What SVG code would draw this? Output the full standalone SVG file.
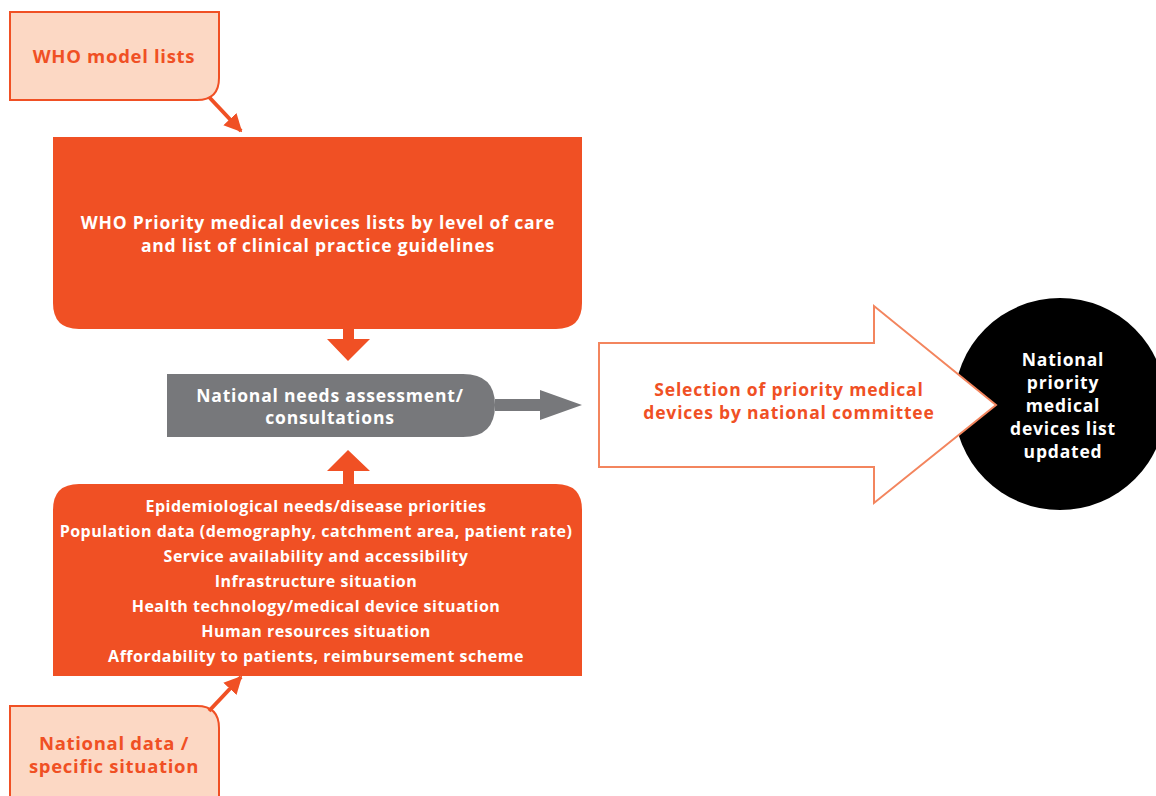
<svg xmlns="http://www.w3.org/2000/svg" width="1156" height="796" viewBox="0 0 1156 796">
<style>
.t{font-family:"Open Sans","Liberation Sans",sans-serif;font-weight:700;text-anchor:middle}
.w{fill:#ffffff}
.o{fill:#F05024}
.l{font-size:17.5px;letter-spacing:0.8px}
.s{font-size:16px;letter-spacing:0.5px}
.peach{fill:#FCD8C4;stroke:#F05024;stroke-width:2}
.org{fill:#F05024}
</style>
<defs>
<marker id="ah" viewBox="0 0 10 10" refX="9" refY="5" markerWidth="4.5" markerHeight="4.5" orient="auto" markerUnits="strokeWidth">
<path d="M0,0 L10,5 L0,10 Z" fill="#F05024"/>
</marker>
</defs>
<g id="who-model-lists">
<path class="peach" d="M10,12 H219 V78 Q219,100 197,100 H10 Z"/>
<text class="t o" x="114" y="63" font-size="18.5" letter-spacing="0.7">WHO model lists</text>
</g>
<g id="who-priority">
<path class="org" d="M53,137 H582 V303 Q582,329 556,329 H79 Q53,329 53,303 Z"/>
<text class="t w l" x="318" y="229">WHO Priority medical devices lists by level of care</text>
<text class="t w l" x="318" y="252">and list of clinical practice guidelines</text>
</g>
<g id="needs-assessment">
<path fill="#77787B" d="M167,374 H463 Q495,374 495,405 Q495,437 463,437 H167 Z"/>
<text class="t w l" x="330" y="402">National needs assessment/</text>
<text class="t w l" x="330" y="424">consultations</text>
</g>
<g id="updated-list">
<circle cx="1060" cy="404" r="106" fill="#000000"/>
<text class="t w l" x="1063" y="366">National</text>
<text class="t w l" x="1063" y="389">priority</text>
<text class="t w l" x="1063" y="412">medical</text>
<text class="t w l" x="1063" y="435">devices list</text>
<text class="t w l" x="1063" y="458">updated</text>
</g>
<g id="selection">
<path fill="#ffffff" stroke="#F3855E" stroke-width="2" d="M599,343 H874 V306 L996,405 L874,503 V467 H599 Z"/>
<text class="t o l" x="789" y="396">Selection of priority medical</text>
<text class="t o l" x="789" y="419">devices by national committee</text>
</g>
<g id="national-factors">
<path class="org" d="M53,676 V510 Q53,484 79,484 H556 Q582,484 582,510 V676 Z"/>
<text class="t w s" x="316" y="512">Epidemiological needs/disease priorities</text>
<text class="t w s" x="316" y="537">Population data (demography, catchment area, patient rate)</text>
<text class="t w s" x="316" y="562">Service availability and accessibility</text>
<text class="t w s" x="316" y="587">Infrastructure situation</text>
<text class="t w s" x="316" y="612">Health technology/medical device situation</text>
<text class="t w s" x="316" y="637">Human resources situation</text>
<text class="t w s" x="316" y="662">Affordability to patients, reimbursement scheme</text>
</g>
<g id="national-data">
<path class="peach" d="M10,797 V706 H197 Q219,706 219,728 V797"/>
<text class="t o" x="114" y="750" font-size="18.5" letter-spacing="0.7">National data /</text>
<text class="t o" x="114" y="773" font-size="18.5" letter-spacing="0.7">specific situation</text>
</g>
<g id="connectors">
<line x1="209" y1="97" x2="241" y2="131" stroke="#F05024" stroke-width="4" marker-end="url(#ah)"/>
<line x1="209" y1="711" x2="241" y2="677" stroke="#F05024" stroke-width="4" marker-end="url(#ah)"/>
<path fill="#F05024" d="M343,329 H354 V339 H370 L348,361 L327,339 H343 Z"/>
<path fill="#F05024" d="M343,484 H354 V471 H370 L348,450 L327,471 H343 Z"/>
<path fill="#77787B" d="M495,399 H540 V390 L582,405 L540,420 V411 H495 Z"/>
</g>
</svg>
